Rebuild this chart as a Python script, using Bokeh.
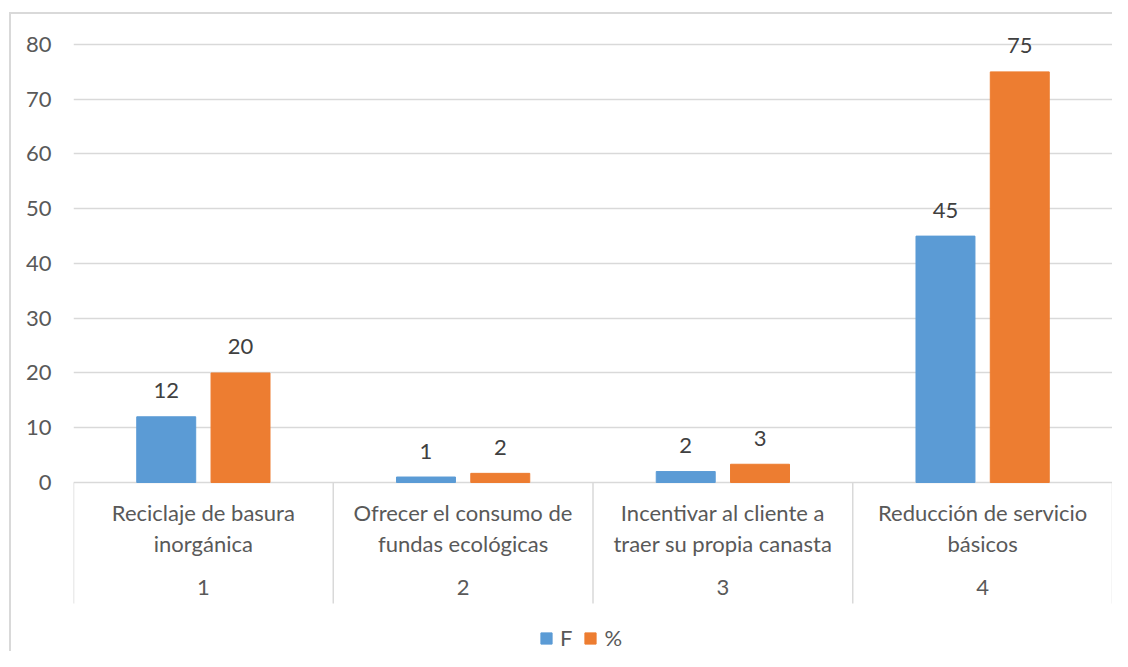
from bokeh.plotting import figure
from bokeh.models import (ColumnDataSource, Range1d, FixedTicker, Legend, LegendItem)
from bokeh.transform import dodge
from bokeh.core.properties import value
from bokeh.embed import file_html
from bokeh.resources import INLINE

# ---- data ----
categories = ["Reciclaje de basura\ninorgánica",
              "Ofrecer el consumo de\nfundas ecológicas",
              "Incentivar al cliente a\ntraer su propia canasta",
              "Reducción de servicio\nbásicos"]
group_numbers = ["1", "2", "3", "4"]
f_values = [12, 1, 2, 45]
pct_values = [20, 1.67, 3.33, 75]
y_ticks = [0, 10, 20, 30, 40, 50, 60, 70, 80]

FONT = "Lato"
FS = "22px"
BLUE = "#5B9BD5"
ORANGE = "#ED7D31"
GRID = "#D9D9D9"
TXT = "#595959"

Y_MIN, Y_MAX = -30.87, 85.48  # frame spans from the top border to the legend row
BOX_BOTTOM = -22.1            # bottom of the category-label box

xs = [i + 0.5 for i in range(len(categories))]
line1 = [c.split("\n")[0] for c in categories]
line2 = [c.split("\n")[1] for c in categories]

src = ColumnDataSource(dict(
    x=xs, f=f_values, pct=pct_values,
    f_lbl=[f"{v:.0f}" for v in f_values],
    pct_lbl=[f"{v:.0f}" for v in pct_values],
    l1=line1, l2=line2, num=group_numbers,
    zero=[0] * len(xs),
))

p = figure(width=1112, height=651, output_backend="svg", toolbar_location=None,
           x_range=Range1d(0, len(categories)), y_range=Range1d(Y_MIN, Y_MAX),
           x_axis_location=None, min_border_left=73, min_border_right=0,
           min_border_top=14, min_border_bottom=0)
# outer chart border (left and top edges) drawn behind the transparent canvas border
p.styles = {"background":
            "linear-gradient(#D9D9D9,#D9D9D9) 9px 12px / 2px 100% no-repeat, "
            "linear-gradient(#D9D9D9,#D9D9D9) 9px 12px / 100% 2px no-repeat, white"}
p.outline_line_color = None
p.background_fill_color = "white"
p.border_fill_color = None

# y axis
ya = p.yaxis[0]
ya.ticker = FixedTicker(ticks=y_ticks)
ya.axis_line_color = None
ya.major_tick_line_color = None
ya.minor_tick_line_color = None
ya.major_tick_out = 0
ya.major_tick_in = 0
ya.major_label_standoff = 22
ya.major_label_text_font = FONT
ya.major_label_text_font_size = FS
ya.major_label_text_color = TXT

p.xgrid.visible = False
p.ygrid.ticker = FixedTicker(ticks=[t for t in y_ticks if t > 0])
p.ygrid.grid_line_color = GRID
p.ygrid.grid_line_width = 1.3

# category box: zero line and separators
n = len(categories)
p.segment(x0=[0], y0=[0], x1=[n], y1=[0], line_color=GRID, line_width=1.5)
p.segment(x0=list(range(n + 1)), y0=[0] * (n + 1), x1=list(range(n + 1)),
          y1=[BOX_BOTTOM] * (n + 1), line_color=GRID, line_width=1.5)

# bars
bw = 0.227
off = 0.143
rf = p.vbar(x=dodge("x", -off, range=p.x_range), top="f", width=bw, source=src,
            fill_color=BLUE, line_color=BLUE)
rp = p.vbar(x=dodge("x", off, range=p.x_range), top="pct", width=bw, source=src,
            fill_color=ORANGE, line_color=ORANGE)

# data labels
common = dict(text_font=value(FONT), text_font_size=FS, text_color="#404040",
              text_align="center", text_baseline="alphabetic", source=src)
p.text(x=dodge("x", -off, range=p.x_range), y="f", text="f_lbl", y_offset=-26, **common)
p.text(x=dodge("x", off, range=p.x_range), y="pct", text="pct_lbl", y_offset=-26, **common)

# category labels
cat = dict(text_font=value(FONT), text_font_size=FS, text_color=TXT,
           text_align="center", text_baseline="alphabetic", source=src)
p.text(x="x", y="zero", text="l1", y_offset=30, **cat)
p.text(x="x", y="zero", text="l2", y_offset=61, **cat)
p.text(x="x", y="zero", text="num", y_offset=105.5, **cat)

# legend
legend = Legend(items=[LegendItem(label="F", renderers=[rf]),
                       LegendItem(label="%", renderers=[rp])],
                orientation="horizontal", location=(466, 0),
                padding=0, margin=0, spacing=11, label_standoff=7,
                glyph_width=14, glyph_height=14, label_height=14, label_width=8,
                border_line_color=None, background_fill_alpha=0,
                label_text_font=FONT, label_text_font_size=FS,
                label_text_color=TXT)
p.add_layout(legend, "center")

open("out.html", "w").write(file_html(p, INLINE))
